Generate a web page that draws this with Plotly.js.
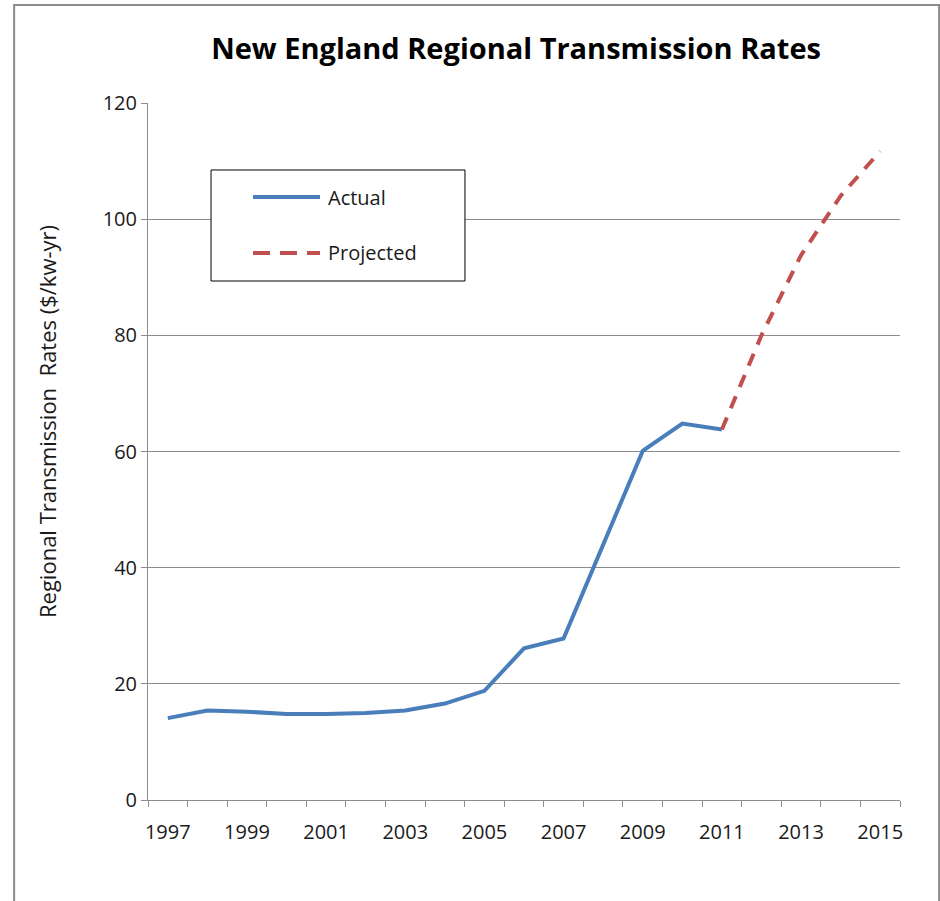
<!DOCTYPE html>
<html>
<head>
<meta charset="utf-8">
<script src="https://cdn.plot.ly/plotly-3.0.1.min.js"></script>
<style>
  body { margin: 0; background: #fff; }
  #chart { width: 940px; height: 901px; }
</style>
</head>
<body>
<div id="chart"></div>
<script>
// years on the category axis
var years = ['1997','1998','1999','2000','2001','2002','2003','2004','2005','2006',
             '2007','2008','2009','2010','2011','2012','2013','2014','2015'];
// only every other year is labelled
var yearLabels = ['1997','','1999','','2001','','2003','','2005','',
                  '2007','','2009','','2011','','2013','','2015'];

var actualYears = ['1997','1998','1999','2000','2001','2002','2003','2004',
                   '2005','2006','2007','2008','2009','2010','2011'];
var actualRates = [14.1, 15.4, 15.2, 14.8, 14.8, 15.0, 15.4, 16.6,
                   18.8, 26.1, 27.8, 44.0, 60.1, 64.8, 63.8];

var projYears = ['2011','2012','2013','2014','2015'];
var projRates = [63.8, 80.0, 93.8, 104.0, 111.7];

var FONT = 'Open Sans, Liberation Sans, sans-serif';
var GRID = '#8c8c8c';
var BLUE = '#4a7ebb';
var RED = '#c0504d';
var DASH = '13px,10px';

var data = [
  {x: actualYears, y: actualRates, type: 'scatter', mode: 'lines', name: 'Actual',
   line: {color: BLUE, width: 4}},
  {x: projYears, y: projRates, type: 'scatter', mode: 'lines', name: 'Projected',
   line: {color: RED, width: 4, dash: DASH}}
];

// hand-placed legend box (paper coordinates)
var legendShapes = [
  {type: 'rect', xref: 'paper', yref: 'paper', x0: 0.0838, x1: 0.4215, y0: 0.7446, y1: 0.9039,
   line: {color: '#000', width: 1}, fillcolor: '#fff'},
  {type: 'line', xref: 'paper', yref: 'paper', x0: 0.1396, x1: 0.2287, y0: 0.8651, y1: 0.8651,
   line: {color: BLUE, width: 4}},
  {type: 'line', xref: 'paper', yref: 'paper', x0: 0.1396, x1: 0.2287, y0: 0.7848, y1: 0.7848,
   line: {color: RED, width: 4, dash: '17px,10px'}}
];
var textNotes = [
  {text: 'Actual', xref: 'paper', yref: 'paper', x: 0.2367, y: 0.8651,
   xanchor: 'left', yanchor: 'middle', showarrow: false, font: {size: 20}},
  {text: 'Projected', xref: 'paper', yref: 'paper', x: 0.2367, y: 0.7848,
   xanchor: 'left', yanchor: 'middle', showarrow: false, font: {size: 20}},
  // y axis title, sits a bit above the plot centre like the original
  {text: 'Regional Transmission  Rates ($/kw-yr)', xref: 'paper', yref: 'paper',
   x: -0.1343, y: 0.5423, xanchor: 'center', yanchor: 'middle', textangle: -90,
   showarrow: false, font: {size: 22}}
];

var layout = {
  width: 940, height: 901,
  margin: {l: 148, r: 40, t: 103, b: 101},
  paper_bgcolor: '#fff', plot_bgcolor: '#fff',
  font: {family: FONT, color: '#1a1a1a', size: 19},
  title: {text: '<b>New England Regional Transmission Rates</b>',
          font: {family: FONT, size: 29, color: '#000'},
          x: 0.549, xanchor: 'center', y: 0.946, yanchor: 'middle'},
  xaxis: {type: 'category', categoryorder: 'array', categoryarray: years,
          range: [-0.5, 18.5], tickangle: 0,
          tickvals: years, ticktext: yearLabels, tickson: 'boundaries',
          showline: true, linecolor: GRID, linewidth: 1,
          ticks: 'outside', ticklen: 6, tickcolor: GRID, ticklabelstandoff: 14,
          showgrid: false, zeroline: false, fixedrange: true,
          tickfont: {size: 20}},
  yaxis: {range: [0, 120], dtick: 20, showline: true, linecolor: GRID, linewidth: 1,
          ticks: 'outside', ticklen: 6, tickcolor: GRID,
          gridcolor: GRID, gridwidth: 1, zeroline: false, fixedrange: true,
          tickfont: {size: 20}},
  showlegend: false,
  shapes: [{type: 'rect', xref: 'paper', yref: 'paper',
            x0: -0.178, x1: 1.052, y0: -0.2, y1: 1.1406,
            line: {color: '#8c8c8c', width: 2}, fillcolor: 'rgba(0,0,0,0)'}]
            .concat(legendShapes),
  annotations: textNotes
};

Plotly.newPlot('chart', data, layout, {displayModeBar: false, staticPlot: true});
</script>
</body>
</html>
